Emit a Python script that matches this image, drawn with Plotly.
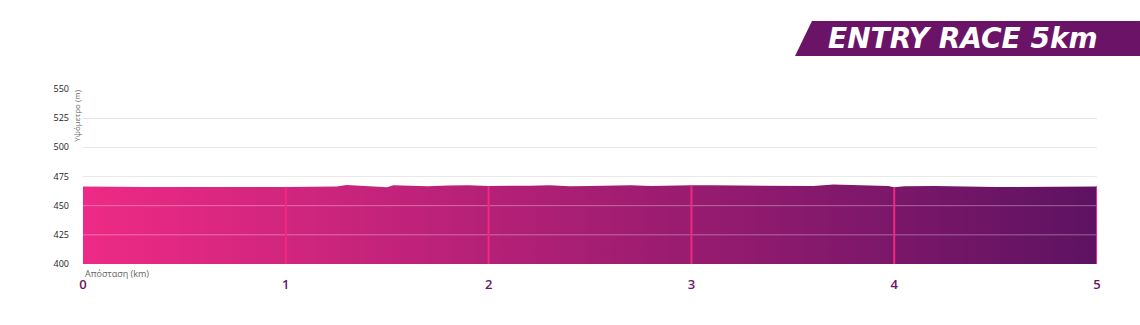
import numpy as np
import plotly.graph_objects as go

# Elevation profile (distance km, elevation m)
distance_km = [0.0, 0.1, 0.2, 0.3, 0.4, 0.5, 0.6, 0.7, 0.8, 0.9, 1.0, 1.1, 1.2, 1.25, 1.3, 1.4, 1.45,
               1.5, 1.53, 1.6, 1.7, 1.8, 1.9, 2.0, 2.1, 2.2, 2.3, 2.4, 2.5, 2.6, 2.7, 2.8, 2.9,
               3.0, 3.1, 3.2, 3.3, 3.4, 3.5, 3.6, 3.7, 3.8, 3.9, 3.97, 4.0, 4.05, 4.2, 4.3, 4.4,
               4.5, 4.6, 4.7, 4.8, 4.9, 5.0]
elevation_m = [466.4, 466.1, 465.9, 465.9, 466.0, 465.9, 466.1, 465.9, 466.1, 465.9, 466.1, 466.4,
               466.7, 466.4, 467.7, 466.4, 465.9, 465.7, 467.4, 466.9, 466.7, 467.2, 467.4, 466.9,
               466.7, 467.1, 467.4, 466.7, 466.9, 467.2, 467.4, 466.9, 467.4, 467.4, 467.4, 467.4,
               467.4, 467.2, 467.1, 466.9, 468.2, 467.7, 467.1, 466.9, 465.7, 466.7, 466.9, 466.4,
               465.9, 465.9, 465.9, 465.9, 466.4, 465.9, 466.4]
km_markers = [1, 2, 3, 4, 5]
y_ticks = [400, 425, 450, 475, 500, 525, 550]
x_ticks = [0, 1, 2, 3, 4, 5]
title_text = "ENTRY RACE 5km"
y_title = "Υψόμετρο (m)"
x_title = "Απόσταση (km)"

PINK = "#EE2A85"
PURPLE = "#5E1262"
BANNER = "#6B1467"

fig = go.Figure()
fig.add_trace(go.Scatter(
    x=distance_km, y=elevation_m, mode="lines", line=dict(width=0, color=PINK),
    fill="tozeroy",
    fillgradient=dict(type="horizontal", colorscale=[[0, PINK], [1, PURPLE]]),
    hoverinfo="skip", showlegend=False,
))

shapes = []
# white translucent gridlines over the fill
for t in y_ticks[1:]:
    shapes.append(dict(type="line", xref="paper", yref="y", x0=0, x1=1, y0=t, y1=t,
                       line=dict(color="rgba(255,255,255,0.35)", width=1), layer="above"))
# km marker lines
for k in km_markers:
    top = float(np.interp(k, distance_km, elevation_m))
    shapes.append(dict(type="line", xref="x", yref="y", x0=k, x1=k, y0=y_ticks[0], y1=top,
                       line=dict(color="#F2287F", width=2), layer="above"))
# title banner (parallelogram)
shapes.append(dict(type="path", xref="paper", yref="paper",
                   path="M 0.7022 1.1886 L 0.7189 1.3886 L 1.0424 1.3886 L 1.0424 1.1886 Z",
                   fillcolor=BANNER, line=dict(width=0), layer="above"))

annotations = [
    dict(text=title_text, xref="paper", yref="paper", x=0.868, y=1.2886, showarrow=False,
         font=dict(family="DejaVu Sans", size=28, color="white", weight="bold", style="italic"),
         xanchor="center", yanchor="middle"),
    dict(text=y_title, xref="paper", yref="paper", x=0, y=1.005, xshift=1, showarrow=False,
         textangle=-90, font=dict(family="Open Sans", size=8, color="#666"),
         xanchor="right", yanchor="top"),
    dict(text=x_title, xref="paper", yref="paper", x=0, y=0, yshift=-1, showarrow=False,
         font=dict(family="Open Sans", size=9, color="#666"),
         xanchor="left", yanchor="top"),
]

fig.update_layout(
    width=1140, height=325,
    margin=dict(l=83, r=43, t=89, b=61, pad=0),
    paper_bgcolor="white", plot_bgcolor="white",
    shapes=shapes, annotations=annotations,
    xaxis=dict(range=[0, 5], tickvals=x_ticks, showgrid=False, zeroline=False, showline=False,
               ticks="", ticklabelstandoff=11,
               tickfont=dict(family="Open Sans", size=13, color="#6B1467", weight=600)),
    yaxis=dict(range=[400, 550], tickvals=y_ticks, showgrid=True, gridcolor="#dddddd",
               gridwidth=1, zeroline=False, showline=False, ticks="", ticklabelstandoff=13,
               tickfont=dict(family="Open Sans", size=9, color="#222")),
)

fig.write_html("out.html")
